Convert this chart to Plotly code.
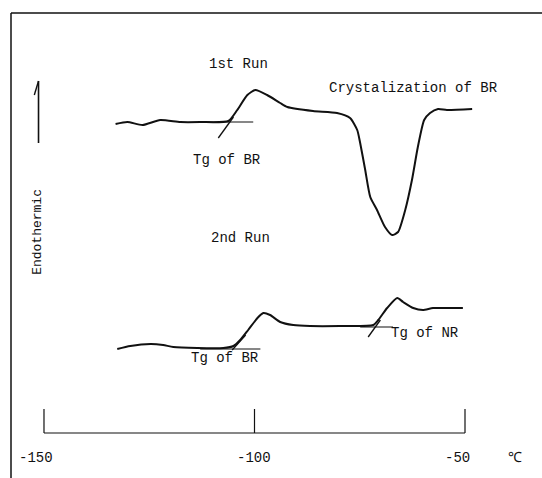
import plotly.graph_objects as go

# DSC traces: temperature (deg C) vs. heat flow (arbitrary units, endothermic up)
run1_temp = [-133.0, -130.2, -126.6, -122.4, -117.6, -112.9, -106.2, -104.1, -101.7,
             -99.8, -97.0, -93.9, -92.2, -86.1, -80.4, -77.3, -75.6, -74.9, -73.7,
             -72.5, -70.9, -69.0, -67.3, -65.9, -64.2, -62.6, -61.2, -59.7, -58.3,
             -56.4, -54.3, -48.3]
run1_signal = [35.4, 35.6, 35.3, 35.8, 35.6, 35.6, 35.7, 36.8, 38.3,
               38.8, 38.3, 37.5, 37.1, 36.7, 36.5, 36.0, 34.8, 33.5, 30.8,
               28.1, 26.8, 25.1, 24.3, 24.6, 26.8, 29.8, 33.1, 35.8, 36.5,
               36.9, 36.8, 36.9]

run2_temp = [-132.6, -129.5, -124.7, -121.7, -119.3, -113.6, -107.4, -105.0, -103.4,
             -101.5, -99.3, -97.9, -96.3, -93.9, -90.8, -86.8, -79.7, -71.8, -70.6,
             -68.5, -66.1, -64.7, -62.3, -60.0, -57.6, -53.6, -50.5]
run2_signal = [12.9, 13.2, 13.4, 13.3, 13.1, 13.0, 13.0, 13.2, 13.8,
               14.8, 16.0, 16.5, 16.3, 15.6, 15.3, 15.2, 15.2, 15.3, 15.8,
               17.0, 18.0, 17.6, 17.0, 16.8, 17.0, 17.0, 17.0]

# Construction lines used to locate Tg (baseline + inflection tangent)
run1_br_base_t = [-112.9, -100.3]
run1_br_base_s = [35.6, 35.6]
run1_br_tan_t = [-108.6, -105.0]
run1_br_tan_s = [34.0, 36.1]

run2_br_base_t = [-112.9, -98.6]
run2_br_base_s = [12.9, 12.9]
run2_br_tan_t = [-105.3, -102.1]
run2_br_tan_s = [12.8, 14.3]

run2_nr_base_t = [-74.9, -67.1]
run2_nr_base_s = [15.1, 15.1]
run2_nr_tan_t = [-73.0, -70.1]
run2_nr_tan_s = [14.1, 15.8]

# Temperature scale
tick_values = [-150, -100, -50]
tick_labels = ["-150", "-100", "-50"]
axis_level = 4.5
tick_top = 6.9
label_level = 2.0

FONT = "Liberation Mono, DejaVu Sans Mono, monospace"
INK = "#111111"

fig = go.Figure()

def add_line(x, y, width, smooth=False):
    line = dict(color=INK, width=width)
    if smooth:
        line.update(shape="spline", smoothing=0.6)
    fig.add_trace(go.Scatter(x=x, y=y, mode="lines", line=line,
                             hoverinfo="skip", showlegend=False))

add_line(run1_temp, run1_signal, 2.0, smooth=True)
add_line(run2_temp, run2_signal, 2.0, smooth=True)
for bt, bs, tt, ts in [(run1_br_base_t, run1_br_base_s, run1_br_tan_t, run1_br_tan_s),
                       (run2_br_base_t, run2_br_base_s, run2_br_tan_t, run2_br_tan_s),
                       (run2_nr_base_t, run2_nr_base_s, run2_nr_tan_t, run2_nr_tan_s)]:
    add_line(bt, bs, 1.1)
    add_line(tt, ts, 1.3)

# Hand-drawn temperature axis with upward ticks
add_line([tick_values[0], tick_values[-1]], [axis_level, axis_level], 1.2)
for tv in tick_values:
    add_line([tv, tv], [axis_level, tick_top], 1.2)

# Endothermic direction arrow (half barb)
add_line([-151.3, -151.3], [33.5, 39.7], 1.6)
add_line([-151.3, -152.3], [39.7, 38.3], 1.4)

def label(x, y, text, size=14, angle=0):
    fig.add_annotation(x=x, y=y, text=text, showarrow=False, textangle=angle,
                       font=dict(family=FONT, size=size, color=INK),
                       xanchor="center", yanchor="middle")

label(-103.9, 41.4, "1st Run")
label(-62.3, 39.0, "Crystalization of BR")
label(-106.5, 31.8, "Tg of BR")
label(-103.4, 24.0, "2nd Run")
label(-59.5, 14.5, "Tg of NR")
label(-106.9, 12.0, "Tg of BR")
label(-151.7, 24.6, "Endothermic", size=13, angle=-90)

for tv, tl in zip(tick_values, tick_labels):
    label(tv - 1.8 if tv != -100 else tv - 0.2, label_level, tl, size=14)
label(-38.2, label_level, "\u2103", size=14)

# Figure frame (top and left edges)
fig.add_shape(type="line", xref="paper", yref="paper", x0=0.0203, x1=1.0,
              y0=0.9728, y1=0.9728, line=dict(color=INK, width=1.5))
fig.add_shape(type="line", xref="paper", yref="paper", x0=0.0203, x1=0.0203,
              y0=0.0, y1=0.9728, line=dict(color=INK, width=1.5))

fig.update_layout(
    width=542, height=478,
    margin=dict(l=0, r=0, t=0, b=0),
    paper_bgcolor="white", plot_bgcolor="white",
    xaxis=dict(range=[-160.45, -31.71], visible=False, fixedrange=True),
    yaxis=dict(range=[0, 47.8], visible=False, fixedrange=True),
    showlegend=False,
)

fig.write_html("out.html")
